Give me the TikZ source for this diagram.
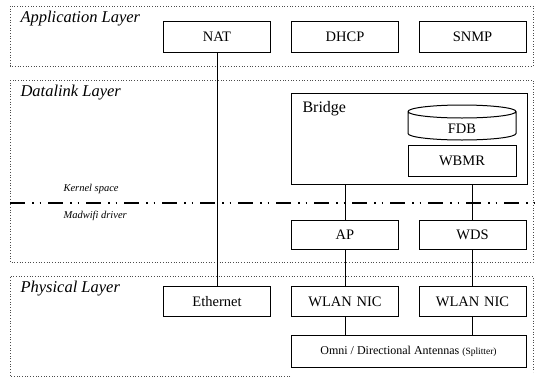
\documentclass[tikz,border=0pt]{standalone}
\usepackage{fontspec}
\setmainfont{Liberation Serif}
\begin{document}
\begin{tikzpicture}[x=1pt,y=-1pt,
  layer/.style={draw=black!70, dotted, line width=0.7pt},
  blk/.style={draw, line width=1pt, inner sep=0pt, font=\fontsize{14.5}{16}\selectfont},
  smallblk/.style={blk, minimum width=107, minimum height=31},
  title/.style={anchor=west, font=\fontsize{16.5}{18}\selectfont\itshape},
  note/.style={anchor=west, font=\fontsize{10.5}{12}\selectfont\itshape},
  link/.style={line width=1pt}]
\useasboundingbox (0,0) rectangle (538,378);

% layer frames
\draw[layer] (10,6) rectangle (533,66);
\draw[layer] (10,80) rectangle (533,262);
\draw[layer] (290,376) -- (10,376) -- (10,276) -- (533,276) -- (533,372);

% layer titles
\node[title] (tapp) at (17,19) {Application Layer};
\node[title] (tdl)  at (17,93) {Datalink Layer};
\node[title] (tphy) at (17,289) {Physical Layer};

% kernel / driver boundary
\draw[line width=1.2pt, dash pattern=on 15pt off 7pt on 1.5pt off 6pt on 1.5pt off 7pt] (10,203) -- (538,203);
\node[note] (tks) at (60,189) {Kernel space};
\node[note] (tmd) at (60,216) {Madwifi driver};

% application layer
\node[smallblk] (nat)  at (217,36.5) {NAT};
\node[smallblk] (dhcp) at (345,36.5) {DHCP};
\node[smallblk] (snmp) at (472.5,36.5) {SNMP};

% bridge with its forwarding database and WBMR
\node[blk, minimum width=236, minimum height=91] (bridge) at (409,138.5) {};
\node[anchor=west, font=\fontsize{16}{18}\selectfont] (tbr) at (299,109) {Bridge};
\draw[line width=1pt] (408,111.5) arc[start angle=180, end angle=-180, x radius=54, y radius=6.5]
  -- (408,111.5) -- (408,133.5) arc[start angle=180, end angle=0, x radius=54, y radius=6.5] -- (516,111.5);
\node[font=\fontsize{14.5}{16}\selectfont] (fdb) at (462,128.5) {FDB};
\node[blk, minimum width=108, minimum height=31] (wbmr) at (462,160.5) {WBMR};

% driver
\node[smallblk, minimum height=29] (ap)  at (345,234.5) {AP};
\node[smallblk, minimum height=29] (wds) at (472.5,234.5) {WDS};

% physical layer
\node[smallblk, minimum height=30] (eth)  at (217,301.5) {Ethernet};
\node[smallblk, minimum height=30] (nic1) at (345,301.5) {WLAN\,\,NIC};
\node[smallblk, minimum height=30] (nic2) at (472.5,301.5) {WLAN\,\,NIC};
\node[blk, minimum width=235, minimum height=32, font=\fontsize{12}{14}\selectfont] (ant) at (408.5,351)
  {Omni / Directional Antennas {\fontsize{9.5}{11}\selectfont(Splitter)}};

% connectors
\draw[link] (nat.south) -- (eth.north);
\draw[link] (ap.north) -- (ap.north |- bridge.south);
\draw[link] (wds.north) -- (wds.north |- bridge.south);
\draw[link] (ap.south) -- (nic1.north);
\draw[link] (wds.south) -- (nic2.north);
\draw[link] (nic1.south) -- (nic1.south |- ant.north);
\draw[link] (nic2.south) -- (nic2.south |- ant.north);
\end{tikzpicture}
\end{document}
